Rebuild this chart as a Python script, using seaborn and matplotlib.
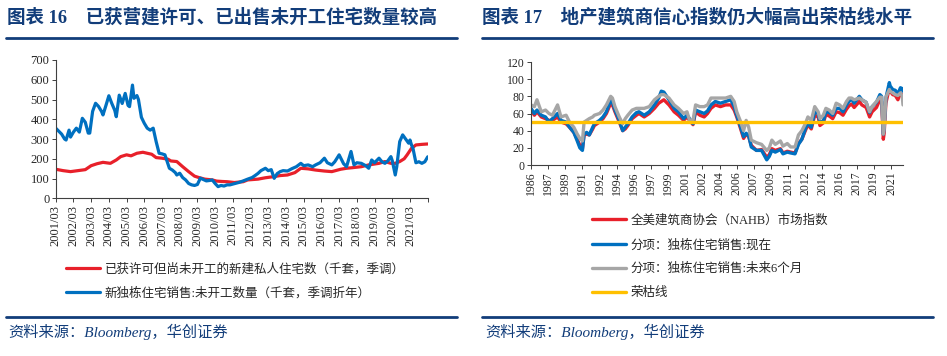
import matplotlib
matplotlib.use("Agg")
import matplotlib.pyplot as plt
from matplotlib.lines import Line2D
import pandas as pd
import seaborn as sns

# ---- chart 16: permits / not started (thousands) ----
PERMIT_DATES = [
    "2001-03", "2001-08", "2002-01", "2002-06", "2002-11", "2003-03", "2003-07", "2003-11",
    "2004-04", "2004-08", "2004-11", "2005-03", "2005-06", "2005-10", "2006-02", "2006-05",
    "2006-08", "2006-11", "2007-03", "2007-07", "2007-09", "2008-01", "2008-05", "2008-09",
    "2009-01", "2009-04", "2009-08", "2010-01", "2010-04", "2010-08", "2010-11", "2011-04",
    "2011-10", "2012-01", "2012-08", "2013-01", "2013-07", "2013-11", "2014-04", "2014-09",
    "2015-01", "2015-06", "2015-11", "2016-05", "2016-10", "2017-04", "2017-08", "2017-12",
    "2018-06", "2018-11", "2019-06", "2019-10", "2020-02", "2020-05", "2020-08", "2020-11",
    "2021-01", "2021-04", "2021-07", "2021-11", "2022-03",
]
PERMIT_VALUES = [
    147, 140, 135, 140, 145, 165, 175, 182,
    177, 194, 211, 220, 215, 228, 233, 228,
    223, 206, 203, 198, 189, 186, 160, 135,
    112, 105, 97, 93, 87, 85, 84, 80,
    84, 93, 97, 104, 110, 115, 118, 130,
    152, 149, 143, 138, 135, 147, 152, 155,
    160, 169, 177, 186, 177, 177, 186, 200,
    220, 253, 270, 273, 275,
]

UNSTARTED_DATES = [
    "2001-03", "2001-05", "2001-07", "2001-09", "2001-10", "2001-12", "2002-01", "2002-03",
    "2002-05", "2002-07", "2002-09", "2002-11", "2003-01", "2003-02", "2003-04", "2003-06",
    "2003-08", "2003-10", "2003-11", "2004-01", "2004-03", "2004-05", "2004-07", "2004-08",
    "2004-10", "2004-12", "2005-02", "2005-04", "2005-05", "2005-07", "2005-08", "2005-10",
    "2005-11", "2006-01", "2006-03", "2006-05", "2006-07", "2006-09", "2006-11", "2007-01",
    "2007-03", "2007-05", "2007-07", "2007-08", "2007-10", "2007-12", "2008-01", "2008-03",
    "2008-05", "2008-07", "2008-09", "2008-11", "2009-01", "2009-03", "2009-05", "2009-07",
    "2009-09", "2009-11", "2010-01", "2010-03", "2010-05", "2010-07", "2010-09", "2010-11",
    "2011-01", "2011-03", "2011-05", "2011-07", "2011-10", "2012-01", "2012-04", "2012-06",
    "2012-08", "2012-10", "2013-01", "2013-03", "2013-05", "2013-07", "2013-09", "2013-11",
    "2014-01", "2014-04", "2014-07", "2014-10", "2015-01", "2015-03", "2015-06", "2015-09",
    "2015-11", "2016-02", "2016-05", "2016-07", "2016-10", "2016-12", "2017-03", "2017-06",
    "2017-08", "2017-11", "2018-01", "2018-03", "2018-06", "2018-09", "2018-11", "2019-01",
    "2019-03", "2019-06", "2019-08", "2019-10", "2019-12", "2020-02", "2020-03", "2020-05",
    "2020-06", "2020-08", "2020-10", "2020-12", "2021-02", "2021-03", "2021-04", "2021-05",
    "2021-07", "2021-09", "2021-11", "2022-01", "2022-03",
]
UNSTARTED_VALUES = [
    355, 340, 325, 300, 295, 345, 310, 335,
    355, 335, 405, 385, 330, 330, 440, 481,
    465, 440, 422, 470, 519, 480, 445, 413,
    522, 480, 531, 470, 464, 573, 506, 520,
    500, 410, 380, 355, 345, 355, 287, 228,
    225, 220, 175, 152, 143, 130, 118, 127,
    105, 93, 75, 68, 65, 70, 102, 95,
    88, 90, 93, 75, 59, 65, 62, 68,
    68, 72, 76, 80, 88, 97, 105, 115,
    126, 140, 152, 140, 145, 101, 125, 135,
    140, 138, 150, 160, 177, 165, 169, 160,
    169, 180, 203, 180, 169, 185, 220, 175,
    160, 237, 169, 180, 177, 165, 152, 194,
    180, 203, 185, 177, 190, 211, 190, 118,
    160, 287, 321, 300, 279, 295, 270, 253,
    180, 185, 177, 185, 210,
]

# ---- chart 17: NAHB index ----
NAHB_DATES = [
    "1986-01", "1986-05", "1986-08", "1987-01", "1987-06", "1987-10", "1988-02", "1988-08",
    "1988-12", "1989-06", "1989-10", "1990-03", "1990-07", "1990-10", "1991-01", "1991-03",
    "1991-06", "1991-09", "1992-01", "1992-03", "1992-09", "1993-01", "1993-05", "1993-10",
    "1993-12", "1994-03", "1994-08", "1994-12", "1995-03", "1995-06", "1995-11", "1996-04",
    "1996-07", "1997-01", "1997-07", "1998-01", "1998-06", "1998-09", "1998-12", "1999-06",
    "1999-12", "2000-05", "2000-11", "2001-03", "2001-06", "2001-10", "2002-01", "2002-06",
    "2002-11", "2003-03", "2003-07", "2003-12", "2004-06", "2004-12", "2005-06", "2005-10",
    "2006-01", "2006-05", "2006-09", "2006-12", "2007-03", "2007-06", "2007-12", "2008-06",
    "2008-12", "2009-03", "2009-06", "2009-10", "2010-04", "2010-07", "2010-12", "2011-04",
    "2011-09", "2012-01", "2012-05", "2012-09", "2012-12", "2013-04", "2013-08", "2013-12",
    "2014-02", "2014-06", "2014-09", "2015-01", "2015-05", "2015-09", "2016-01", "2016-05",
    "2016-09", "2016-12", "2017-03", "2017-06", "2017-12", "2018-03", "2018-08", "2018-12",
    "2019-03", "2019-08", "2019-12", "2020-02", "2020-04", "2020-05", "2020-07", "2020-11",
    "2020-12", "2021-03", "2021-06", "2021-09", "2021-12", "2022-02", "2022-03",
]
HMI = [
    64, 58, 62, 56, 54, 52, 52, 56,
    50, 48, 44, 38, 30, 23, 19, 35,
    36, 35, 42, 46, 50, 54, 60, 72,
    70, 62, 50, 40, 42, 46, 54, 58,
    60, 56, 60, 66, 72, 74, 76, 70,
    62, 58, 52, 56, 52, 47, 62, 58,
    56, 60, 66, 70, 68, 70, 70, 64,
    56, 44, 31, 36, 33, 23, 17, 18,
    9, 12, 19, 17, 19, 14, 16, 15,
    14, 25, 30, 40, 47, 42, 58, 56,
    46, 49, 59, 57, 54, 62, 61, 58,
    65, 69, 71, 67, 74, 70, 67, 56,
    62, 67, 76, 74, 30, 37, 72, 90,
    86, 82, 81, 76, 84, 81, 79,
]
SALES_NOW = [
    66, 60, 64, 58, 56, 50, 54, 60,
    52, 50, 44, 38, 28, 20, 17, 36,
    38, 35, 44, 48, 52, 56, 62, 76,
    73, 64, 52, 40, 44, 48, 56, 61,
    62, 58, 62, 70, 78, 86, 85, 76,
    66, 62, 54, 58, 54, 48, 64, 62,
    60, 63, 70, 74, 72, 74, 76, 68,
    58, 46, 33, 37, 34, 21, 17, 17,
    6, 10, 17, 15, 18, 13, 15, 14,
    13, 24, 30, 42, 49, 44, 62, 60,
    50, 51, 62, 61, 58, 66, 66, 62,
    70, 74, 77, 72, 80, 76, 73, 61,
    68, 73, 82, 80, 36, 43, 78, 96,
    92, 88, 87, 83, 90, 89, 86,
]
SALES_6M = [
    70, 68, 76, 62, 64, 60, 58, 70,
    56, 58, 50, 44, 36, 31, 28, 50,
    52, 54, 56, 58, 60, 64, 70, 80,
    78, 68, 56, 48, 54, 58, 64, 66,
    66, 66, 68, 76, 80, 82, 82, 78,
    70, 66, 60, 62, 52, 52, 70, 68,
    68, 70, 78, 78, 78, 78, 80, 74,
    62, 52, 40, 52, 44, 29, 26, 24,
    17, 20, 29, 24, 28, 22, 25, 21,
    21, 35, 40, 48, 56, 52, 68, 62,
    54, 58, 66, 64, 60, 72, 70, 66,
    74, 78, 78, 76, 78, 76, 73, 62,
    68, 74, 79, 79, 36, 42, 79, 88,
    86, 84, 82, 81, 84, 80, 70,
]
BOOM_BUST = 50

RED = "#E8202A"
BLUE = "#0070C0"
GRAY = "#A6A6A6"
YELLOW = "#FFC000"
NAVY = "#123D7A"
CJK = ["Liberation Serif", "Noto Sans CJK SC"]

sns.set_theme(style="white")
plt.rcParams["font.family"] = CJK
plt.rcParams["axes.unicode_minus"] = False

fig = plt.figure(figsize=(9.47, 3.56), dpi=100)
W, H = 947, 356


def fx(px):
    return px / W


def fy(py):
    return 1 - py / H


def style_axis(ax, fs):
    for side in ("top", "right"):
        ax.spines[side].set_visible(False)
    for side in ("left", "bottom"):
        ax.spines[side].set_color("#404040")
        ax.spines[side].set_linewidth(0.8)
    ax.tick_params(axis="both", direction="out", length=3, width=0.7,
                   color="#404040", labelsize=fs, pad=1.5)
    ax.tick_params(axis="y", left=True)
    ax.tick_params(axis="x", bottom=True)
    ax.grid(False)
    ax.set_xlabel("")
    ax.set_ylabel("")
    for lab in ax.get_xticklabels() + ax.get_yticklabels():
        lab.set_fontfamily("Liberation Serif")


# left chart
ax1 = fig.add_axes([fx(55.7), fy(198.3), fx(372), 138.3 / H])
permit = pd.DataFrame({"date": pd.to_datetime(PERMIT_DATES), "v": PERMIT_VALUES})
unstarted = pd.DataFrame({"date": pd.to_datetime(UNSTARTED_DATES), "v": UNSTARTED_VALUES})
sns.lineplot(data=permit, x="date", y="v", ax=ax1, color=RED, linewidth=2.3,
             label="已获许可但尚未开工的新建私人住宅数（千套，季调）")
sns.lineplot(data=unstarted, x="date", y="v", ax=ax1, color=BLUE, linewidth=2.3,
             label="新独栋住宅销售:未开工数量（千套，季调折年）")
ax1.set_ylim(0, 700)
ax1.set_yticks(range(0, 701, 100))
ax1.set_xlim(pd.Timestamp("2001-03-01"), pd.Timestamp("2022-03-01"))
ticks1 = pd.date_range("2001-03-01", "2022-03-01", freq="12MS")
ax1.set_xticks(ticks1)
ax1.set_xticklabels([d.strftime("%Y/%m") if d.year < 2022 else "" for d in ticks1],
                    rotation=90)
style_axis(ax1, 9)
ax1.get_legend().remove()

# right chart
ax2 = fig.add_axes([fx(531), fy(165), fx(372), 103 / H])
nahb = pd.DataFrame({"date": pd.to_datetime(NAHB_DATES), "hmi": HMI,
                     "now": SALES_NOW, "fut": SALES_6M})
sns.lineplot(data=nahb, x="date", y="hmi", ax=ax2, color=RED, linewidth=2.4,
             label="全美建筑商协会（NAHB）市场指数")
sns.lineplot(data=nahb, x="date", y="now", ax=ax2, color=BLUE, linewidth=2.4,
             label="分项：独栋住宅销售:现在")
sns.lineplot(data=nahb, x="date", y="fut", ax=ax2, color=GRAY, linewidth=2.4,
             label="分项：独栋住宅销售:未来6个月")
ax2.axhline(BOOM_BUST, color=YELLOW, linewidth=2.4, label="荣枯线")
ax2.set_ylim(0, 120)
ax2.set_yticks(range(0, 121, 20))
ax2.set_xlim(pd.Timestamp("1986-01-01"), pd.Timestamp("2022-03-01"))
ticks2 = pd.date_range("1986-01-01", "2021-01-01", freq="20MS")
ax2.set_xticks(ticks2)
ax2.set_xticklabels([d.strftime("%Y") for d in ticks2], rotation=90)
style_axis(ax2, 8.5)
ax2.get_legend().remove()

# legends
h1, l1 = ax1.get_legend_handles_labels()
fig.legend(h1, l1, loc="upper left", bbox_to_anchor=(fx(66), fy(263.5)),
           frameon=False, fontsize=9, handlelength=2.7, handletextpad=0.4,
           labelspacing=0.92, borderpad=0, borderaxespad=0)
h2, l2 = ax2.get_legend_handles_labels()
fig.legend(h2, l2, loc="upper left", bbox_to_anchor=(fx(592), fy(214.5)),
           frameon=False, fontsize=9, handlelength=2.7, handletextpad=0.4,
           labelspacing=0.95, borderpad=0, borderaxespad=0)

# titles, rules, sources
fig.text(fx(7), fy(17), "图表 16    已获营建许可、已出售未开工住宅数量较高",
         fontsize=13.3, fontweight="bold", color=NAVY, va="center", family=CJK)
fig.text(fx(482), fy(17), "图表 17    地产建筑商信心指数仍大幅高出荣枯线水平",
         fontsize=13.3, fontweight="bold", color=NAVY, va="center", family=CJK)
for x0, x1 in ((6, 457), (482, 933)):
    fig.add_artist(Line2D([fx(x0), fx(x1)], [fy(38), fy(38)], color=NAVY, linewidth=2))
    fig.add_artist(Line2D([fx(x0), fx(x1)], [fy(317), fy(317)], color=NAVY, linewidth=2))
for x0 in (8, 485):
    fig.text(fx(x0), fy(332), "资料来源：Bloomberg，华创证券", fontsize=11,
             style="italic", color=NAVY, va="center", family=CJK)

fig.savefig("out.png", dpi=100)
